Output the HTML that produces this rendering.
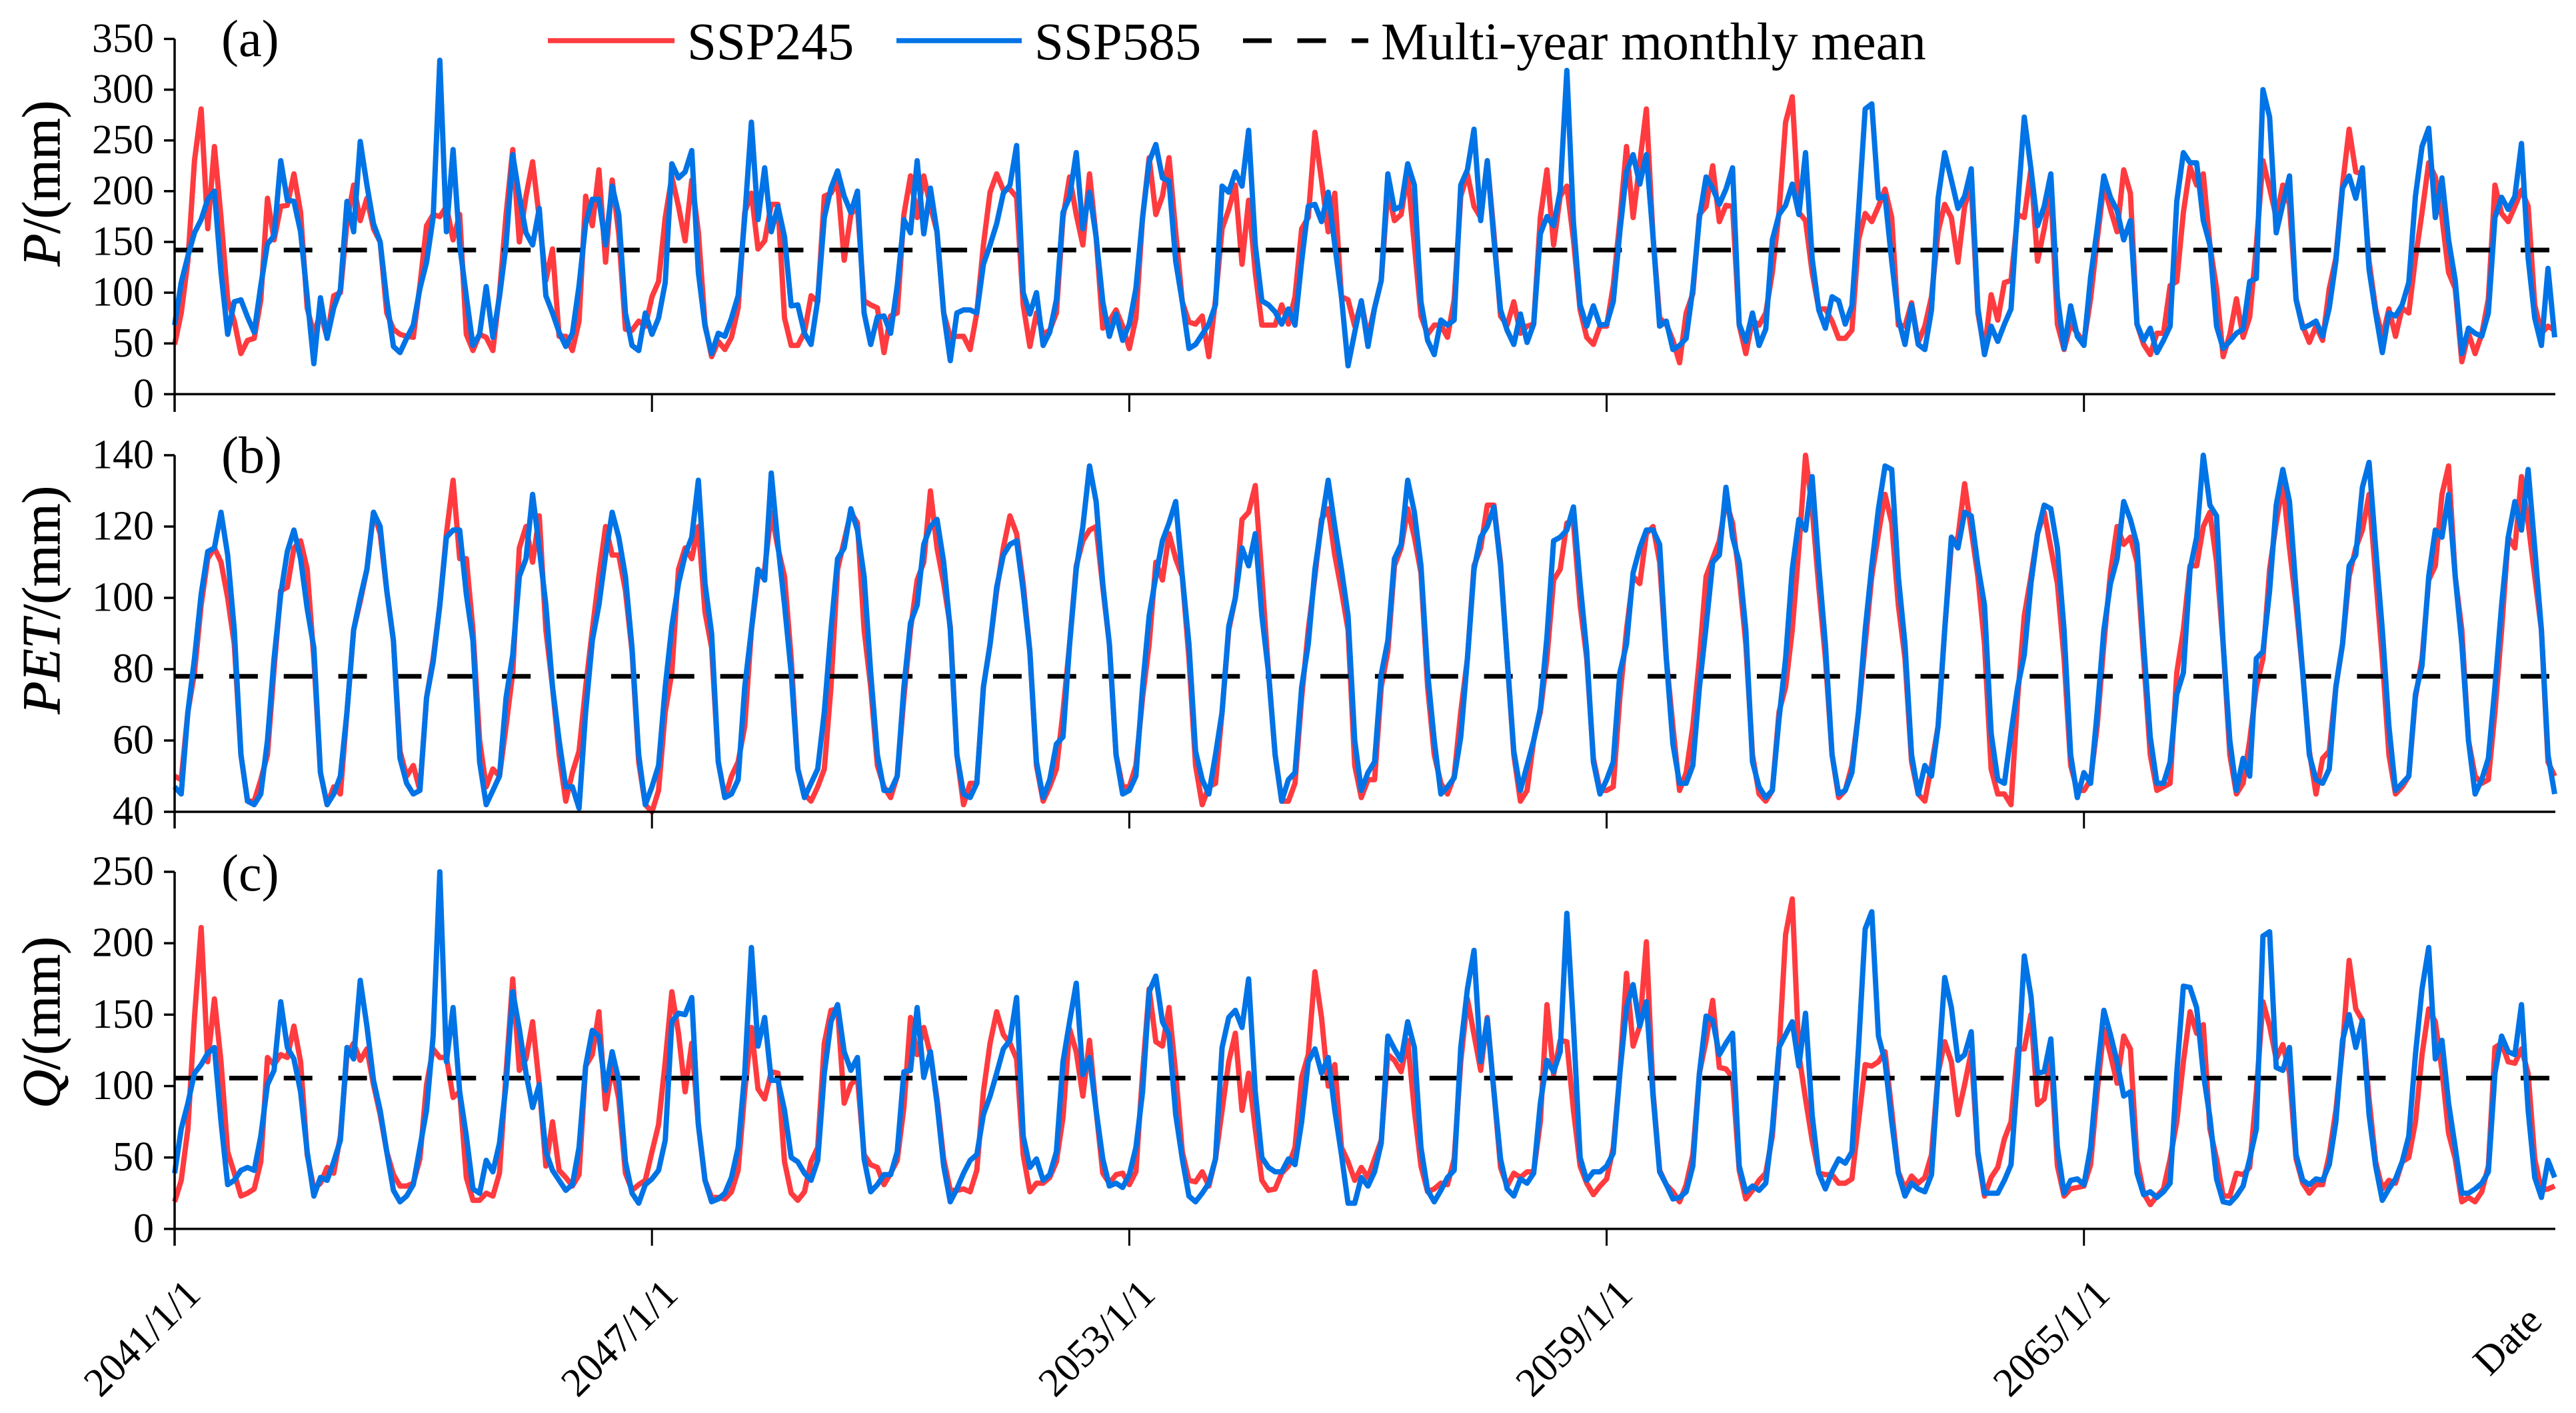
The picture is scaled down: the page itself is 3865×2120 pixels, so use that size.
<!DOCTYPE html>
<html lang="en">
<head>
<meta charset="utf-8">
<title>P, PET and Q projections 2041-2070</title>
<style>
html,body{margin:0;padding:0;background:#fff;}
svg{display:block;}
text{font-family:"Liberation Serif",serif;fill:#000;}
</style>
</head>
<body>
<svg id="chart" xmlns="http://www.w3.org/2000/svg" width="3865" height="2120" viewBox="0 0 3865 2120">
  <rect x="0" y="0" width="3865" height="2120" fill="#fff"/>
  <g id="plots"></g>
  <g>
    <line x1="822" y1="61" x2="1012" y2="61" stroke="#FF3B3F" stroke-width="7.5"/>
    <text x="1031" y="89" font-size="79">SSP245</text>
    <line x1="1345" y1="61" x2="1533" y2="61" stroke="#0073E6" stroke-width="7.5"/>
    <text x="1552" y="89" font-size="79">SSP585</text>
    <line x1="1865" y1="61" x2="2053" y2="61" stroke="#000" stroke-width="7" stroke-dasharray="43 38.5"/>
    <text x="2072" y="89" font-size="79.6">Multi-year monthly mean</text>
  </g>
  <text transform="translate(89,275) rotate(-90)" text-anchor="middle" font-size="80" stroke="#000" stroke-width="0.8"><tspan font-style="italic">P</tspan>/(mm)</text>
  <text transform="translate(89,900) rotate(-90)" text-anchor="middle" font-size="80" stroke="#000" stroke-width="0.8"><tspan font-style="italic">PET</tspan>/(mm)</text>
  <text transform="translate(89,1534) rotate(-90)" text-anchor="middle" font-size="80" stroke="#000" stroke-width="0.8"><tspan font-style="italic">Q</tspan>/(mm)</text>
  <text x="332" y="84" font-size="78">(a)</text>
  <text x="332" y="709" font-size="78">(b)</text>
  <text x="332" y="1336" font-size="78">(c)</text>
  <text transform="translate(3817,1985) rotate(-45)" text-anchor="end" font-size="61">Date</text>
</svg>
<script>
const xLabels = ['2041/1/1','2047/1/1','2053/1/1','2059/1/1','2065/1/1'];
const xTickMonths = [0,72,144,216,288];
const monthCount = 360;

const pTicks = [0,50,100,150,200,250,300,350];
const petTicks = [40,60,80,100,120,140];
const qTicks = [0,50,100,150,200,250];

const pMean = 142;
const petMean = 78;
const qMean = 105.6;

const pSsp245 = [
49,80,131,230,281,163,244,174,93,72,40,53,
55,93,193,152,185,186,217,179,85,59,80,56,
97,100,169,206,171,193,163,150,80,64,59,57,
56,107,166,177,175,185,152,177,59,43,59,56,
43,99,177,241,150,195,229,174,112,143,57,57,
43,72,195,166,221,130,211,158,64,63,72,67,
96,111,174,214,185,151,211,160,69,37,52,44,
56,85,179,198,143,151,187,187,75,48,48,61,
97,91,195,198,209,132,177,185,92,88,85,41,
77,80,177,215,174,215,185,160,80,56,57,57,
44,80,147,199,217,201,202,194,88,47,80,59,
63,80,174,214,177,147,217,155,65,72,83,67,
45,75,174,233,177,195,233,160,91,71,69,77,
37,93,163,182,206,128,191,120,68,68,68,88,
69,96,163,174,258,211,160,198,96,93,67,91,
56,85,112,201,171,177,217,147,77,59,68,68,
56,93,195,217,185,174,230,158,77,68,91,60,
67,69,174,221,147,195,205,152,83,56,49,67,
67,107,171,244,174,228,281,155,75,69,53,31,
80,99,177,185,225,170,186,185,68,40,73,68,
80,120,179,268,293,179,171,120,84,84,72,55,
55,63,152,178,170,185,202,174,68,67,90,51,
67,96,160,187,174,130,185,206,80,43,98,73,
110,112,177,174,222,131,163,201,69,44,69,60,
51,94,152,206,182,160,221,198,69,49,39,60,
60,107,111,179,224,206,217,147,104,37,59,94,
56,76,147,230,203,174,206,187,94,67,51,67,
53,104,134,206,261,219,217,131,84,56,84,57,
85,80,134,179,228,214,174,120,104,32,60,40,
59,94,206,178,170,185,201,185,88,60,67,63];

const pSsp585 = [
68,110,136,159,172,192,200,120,59,91,93,76,
61,107,148,156,230,191,190,160,96,30,95,55,
85,103,190,160,249,206,168,150,93,47,41,55,
68,104,130,174,329,160,241,147,96,48,59,106,
56,96,147,236,195,159,147,183,97,80,61,47,
60,107,168,192,192,147,205,177,80,48,43,80,
59,75,110,227,213,219,240,120,67,40,60,57,
75,97,174,268,172,223,160,185,155,87,88,60,
49,93,174,203,220,195,179,200,80,49,76,77,
60,107,172,159,230,158,203,160,80,33,80,83,
83,80,128,147,168,198,206,245,100,79,100,48,
61,93,179,194,238,163,199,155,91,57,79,53,
69,104,174,229,246,213,210,131,91,45,49,59,
69,88,205,199,219,205,260,147,92,88,81,69,
84,68,131,185,187,170,199,147,96,28,61,92,
47,85,112,217,182,185,227,206,91,53,39,73,
68,73,206,221,261,171,230,152,83,63,49,79,
51,69,158,175,166,200,319,169,88,67,87,68,
69,91,160,219,236,207,236,155,67,72,44,48,
55,104,174,214,203,187,202,223,69,52,80,48,
64,152,177,186,207,177,238,134,83,65,96,92,
69,87,180,281,286,193,195,131,75,49,88,49,
44,83,193,238,211,183,195,222,85,39,67,52,
69,84,185,273,222,166,185,217,96,45,87,57,
48,115,163,215,194,181,152,171,69,53,65,41,
53,67,190,238,228,228,171,147,67,45,52,60,
64,111,114,300,273,159,187,215,93,65,68,72,
57,85,131,203,215,193,223,123,80,41,80,77,
88,110,195,244,262,174,213,152,112,40,65,60,
57,80,174,194,182,195,247,134,75,48,124,56];

const petSsp245 = [
50,49,68,79,98,111,114,110,100,87,56,43,
43,49,56,80,102,103,114,116,108,83,51,42,
47,45,68,91,99,108,124,118,102,88,57,50,
53,46,72,83,98,118,133,111,111,91,60,47,
52,50,64,79,114,120,110,123,91,75,56,43,
51,57,75,91,106,120,112,112,102,85,54,42,
40,46,68,79,108,114,111,120,96,86,54,44,
50,54,64,91,106,108,124,114,106,83,52,45,
43,47,52,75,108,116,124,121,91,75,53,47,
44,50,72,91,105,110,130,114,104,92,56,42,
48,48,75,87,102,114,123,118,104,85,53,43,
47,52,68,87,109,116,119,120,103,87,56,47,
47,53,72,87,110,105,118,111,106,83,53,42,
47,48,68,91,100,122,124,131.5,106,79,56,43,
43,48,72,91,106,122,125,112,102,91,53,44,
49,49,75,85,109,114,125,117,107,75,56,48,
45,50,68,83,109,114,126,126,110,83,56,43,
46,60,68,83,105,108,121,121,98,83,55,46,
46,47,72,91,106,104,118,120,110,83,64,46,
51,64,83,106,111,116,127,121,106,87,56,45,
43,46,68,75,91,114,140,125,103,83,56,44,
46,53,68,87,106,118,129,121,98,83,54,45,
43,53,64,91,115,117,132,119,106,87,52,45,
45,42,72,95,106,118,124,114,104,83,53,46,
46,49,64,87,107,120,115,117,110,83,56,46,
47,48,79,91,109,109,120,124,110,87,56,45,
48,60,75,83,108,121,132,114,98,79,57,45,
55,57,75,87,106,114,119,129,106,83,56,45,
47,50,72,83,105,109,129,137,106,91,60,50,
48,49,68,91,117,114,134,121,106,91,54,50];

const petSsp585 = [
47,45,68,83,101,113,114,124,112,91,56,43,
42,45,60,83,101,113,119,111,97,86,51,42,
45,50,68,91,100,108,124,120,102,88,55,48,
45,46,72,82,98,117,119,119,101,88,54,42,
46,50,72,84,106,111,129,114,98,75,60,47,
47,41,68,88,98,112,124,117,106,86,56,42,
47,53,75,92,104,112,117,133,104,90,54,44,
45,49,75,91,108,105,135,115,98,79,52,44,
48,52,68,91,111,114,125,119,106,79,56,46,
46,50,75,93,98,115,120,122,110,91,56,45,
44,48,75,87,103,112,115,116,102,85,54,44,
49,59,61,87,108,120,137,127,104,87,56,45,
46,50,75,95,106,116,121,127,106,87,57,49,
45,56,68,92,100,114,109,118,95,79,56,43,
49,51,75,87,108,121,133,120,108,95,60,46,
51,54,78.5,88,111,115,133,124,109,79,60,45,
47,49.5,61,83,108,117,120,125.5,109,83,57,46,
53,60,69,89,116,117,119,125.5,104,85,54,45,
49,54,79,87,107,114,119,119,115,83,59,48,
48,53,75,92,110,112,131,117,110,91,54,47,
44,46,66,83,108,122,119,134,109,87,56,45,
46,51,68,91,109,125,137,136,106,87,56,45,
53,50,64,91,117,114,124,123,109,98,62,49,
48,62,75,84,104,118,126,125,114,91,56,44,
51,48,68,91,104,111,127,122,115,87,61,48,
48,54,73,79,108,117,140,126,123,87,60,46,
55,50,83,85,102,126,136,127,102,79,56,49,
48,52,75,87,109,112,131,138,114,91,64,46,
48,50,73,81,106,119,117,129,106,87,60,45,
49,55,75,98,117,127,119,136,114,91,56,45];

const qSsp245 = [
19,34,70,148,211,117,161,117,54,39,23,25,
28,47,120,115,122,120,142,117,52,28,32,43,
39,65,122,130,118,126,101,80,54,38,30,30,
32,49,101,126,120,120,92,96,36,20,20,25,
23,39,109,175,111,119,145,101,44,75,41,36,
30,38,114,122,152,84,114,91,39,27,31,34,
54,73,117,166,137,96,130,73,34,22,22,21,
26,41,96,141,98,91,110,109,47,25,20,26,
47,57,130,153,154,88,101,106,52,45,43,31,
39,48,85,148,122,141,122,91,49,27,27,28,
26,41,96,130,152,136,130,119,52,26,32,32,
36,47,78,140,124,93,132,83,39,32,38,39,
31,40,109,168,131,128,155,109,54,34,33,40,
30,49,83,117,137,83,109,70,34,27,28,39,
44,57,106,122,180,148,100,115,57,47,34,43,
36,49,62,122,118,110,132,83,44,26,28,32,
31,49,117,161,136,111,148,96,43,30,39,36,
40,40,75,157,108,132,131,83,44,32,24,30,
35,57,109,179,128,142,201,96,41,31,26,19,
31,52,109,132,160,113,112,106,41,21,27,34,
39,65,124,206,231,122,91,62,39,38,38,32,
32,35,75,115,114,117,124,83,40,28,37,32,
36,52,109,131,117,80,101,124,52,23,36,43,
63,75,126,126,150,87,91,122,44,23,28,29,
30,45,96,140,122,102,135,126,49,25,17,23,
28,49,75,117,152,137,143,70,49,23,23,39,
38,43,96,159,142,119,129,109,49,32,25,31,
31,52,83,127,188,154,146,91,47,28,34,32,
47,50,75,122,154,145,111,67,49,19,22,19,
26,44,127,130,117,116,126,109,49,27,28,30];

const qSsp585 = [
39,70,88,109,115,123,127,75,31,34,41,43,
41,65,101,111,159,127,119,96,54,23,36,34,
47,62,127,119,174,142,104,83,54,27,19,23,
31,57,83,135,250,117,155,96,65,28,25,48,
40,60,101,166,140,109,85,101,54,41,34,27,
31,57,114,139,135,97,124,104,47,25,18,31,
35,41,62,145,151,150,162,73,34,19,21,25,
36,57,109,197,128,148,104,104,83,50,47,39,
34,48,109,145,157,124,111,120,49,26,31,38,
38,54,110,111,155,106,124,88,44,19,28,39,
48,52,80,93,109,126,132,162,65,43,49,34,
38,54,117,145,172,108,120,83,49,30,32,29,
38,57,96,166,177,145,136,80,49,23,19,25,
32,49,127,148,153,141,175,96,50,43,40,40,
49,45,75,117,126,109,120,83,52,18,18,36,
30,40,60,135,126,118,145,127,57,27,19,27,
36,41,127,168,195,117,147,96,49,28,23,35,
32,39,88,118,110,124,221,142,50,34,40,40,
44,53,109,155,171,142,159,93,40,31,21,22,
26,44,109,149,146,122,130,137,44,26,30,27,
32,70,127,136,145,114,151,80,39,28,40,49,
46,54,127,210,222,135,117,75,39,23,32,28,
26,38,109,176,155,118,122,138,54,25,25,25,
34,45,109,191,163,109,110,133,57,25,34,35,
31,57,109,153,136,117,93,96,39,24,26,22,
26,32,109,170,169,155,109,78,35,19,18,23,
30,49,70,205,208,113,111,127,52,34,31,35,
34,45,75,132,150,127,146,80,44,20,28,35,
47,65,122,168,197,119,132,88,57,25,25,28,
32,40,109,135,124,122,157,83,36,22,48,36];

const NS = 'http://www.w3.org/2000/svg';
const root = document.getElementById('plots');

const AXIS_LEFT = 262;
const AXIS_RIGHT = 3834;
const MEAN_RIGHT = 3825;
const PX_PER_MONTH = 9.947;
const RED = '#FF3B3F';
const BLUE = '#0073E6';

function xScale(month) {
  return AXIS_LEFT + month * PX_PER_MONTH;
}

function linearY(domainMin, domainMax, pixelBottom, pixelTop) {
  return function (v) {
    return pixelBottom - (v - domainMin) / (domainMax - domainMin) * (pixelBottom - pixelTop);
  };
}

function shape(tag, parent) {
  const el = document.createElementNS(NS, tag);
  parent.appendChild(el);
  return el;
}

function drawLine(parent, x1, y1, x2, y2, width) {
  const el = shape('line', parent);
  el.setAttribute('x1', x1);
  el.setAttribute('y1', y1);
  el.setAttribute('x2', x2);
  el.setAttribute('y2', y2);
  el.setAttribute('stroke', '#000');
  el.setAttribute('stroke-width', width);
  return el;
}

function drawSeries(parent, values, yScale, color, width) {
  const el = shape('polyline', parent);
  const pts = [];
  for (let i = 0; i < values.length && i < monthCount; i++) {
    pts.push(xScale(i).toFixed(1) + ',' + yScale(values[i]).toFixed(1));
  }
  el.setAttribute('points', pts.join(' '));
  el.setAttribute('fill', 'none');
  el.setAttribute('stroke', color);
  el.setAttribute('stroke-width', width);
  el.setAttribute('stroke-linejoin', 'round');
  el.setAttribute('stroke-linecap', 'butt');
  return el;
}

function drawPanel(key, ticks, yScale, zeroValue, red, blue, mean, tickBottom) {
  const g = shape('g', root);
  
  

  const redLine = drawSeries(g, red, yScale, RED, 8);
  
  

  const meanLine = drawLine(g, AXIS_LEFT, yScale(mean), MEAN_RIGHT, yScale(mean), 7);
  meanLine.setAttribute('stroke-dasharray', '43 38.86');
  
  

  const blueLine = drawSeries(g, blue, yScale, BLUE, 8);
  
  

  const yBase = yScale(zeroValue);
  const xAxis = drawLine(g, AXIS_LEFT, yBase, AXIS_RIGHT, yBase, 3.5);
  
  

  const yAxis = drawLine(g, AXIS_LEFT, yScale(ticks[ticks.length - 1]), AXIS_LEFT, tickBottom, 3.5);
  
  

  ticks.forEach(function (t) {
    const tick = drawLine(g, 246, yScale(t), AXIS_LEFT, yScale(t), 3.5);
    
    

    const label = shape('text', g);
    label.setAttribute('x', 231);
    label.setAttribute('y', yScale(t) + 19.5);
    label.setAttribute('text-anchor', 'end');
    label.setAttribute('font-size', '62');
    label.textContent = String(t);
    
    
  });

  xTickMonths.forEach(function (m) {
    const tick = drawLine(g, xScale(m), yBase, xScale(m), tickBottom, 3);
    
    
  });
}

drawPanel('p', pTicks, linearY(0, 350, 591.4, 58.4), 0, pSsp245, pSsp585, pMean, 618);
drawPanel('pet', petTicks, linearY(40, 140, 1218, 683), 40, petSsp245, petSsp585, petMean, 1243);
drawPanel('q', qTicks, linearY(0, 250, 1843.8, 1308), 0, qSsp245, qSsp585, qMean, 1869);

xTickMonths.forEach(function (m, i) {
  const label = shape('text', root);
  label.setAttribute('transform', 'translate(' + (xScale(m) + 42) + ',1945) rotate(-45)');
  label.setAttribute('text-anchor', 'end');
  label.setAttribute('font-size', '61');
  label.textContent = xLabels[i];
  
  
});
</script>
</body>
</html>
